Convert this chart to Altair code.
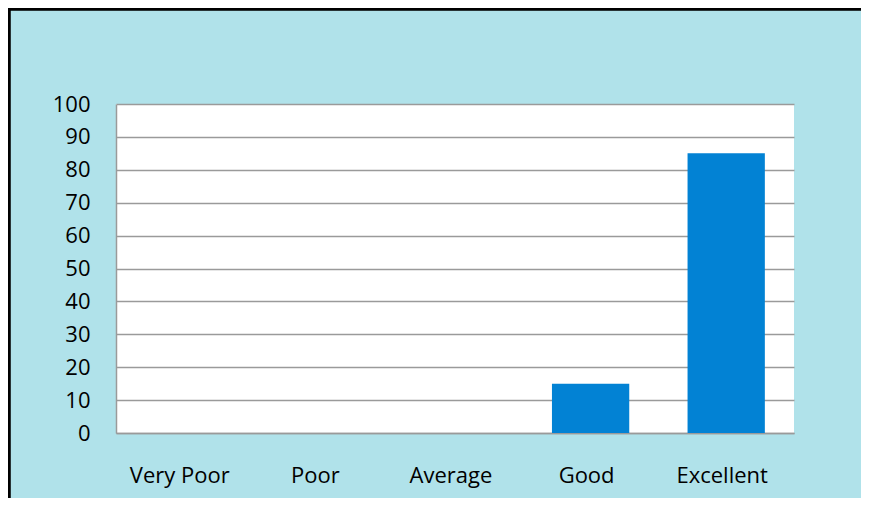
import altair as alt
import pandas as pd

categories = ["Very Poor", "Poor", "Average", "Good", "Excellent"]
values = [0, 0, 0, 15, 85]

df = pd.DataFrame({"category": categories, "value": values})

FONT = "Open Sans"
GRID = "#9a9a9a"
W, H = 678, 329
PL, PT, PR, PB = 108, 96, 67, 65

bars = alt.Chart(df).mark_bar(color="#0282d4").encode(
    x=alt.X("category:N", sort=categories,
            scale=alt.Scale(paddingInner=0.43, paddingOuter=0.215),
            axis=alt.Axis(title=None, labelAngle=0, labelFont=FONT, labelFontSize=22,
                          labelColor="#000000", labelPadding=32, labelOffset=-4,
                          ticks=False, domain=True, domainColor=GRID, domainWidth=1.5,
                          grid=False)),
    y=alt.Y("value:Q", scale=alt.Scale(domain=[0, 100], nice=False),
            axis=alt.Axis(title=None, values=list(range(0, 101, 10)), labelFont=FONT,
                          labelFontSize=22, labelColor="#000000", labelPadding=26,
                          ticks=False, domain=True, domainColor=GRID, domainWidth=1.5,
                          grid=True, gridColor=GRID, gridWidth=1.5)),
)

left_border = alt.Chart(df).mark_rule(color="#000000", strokeWidth=2.5).encode(
    x=alt.value(-PL + 1), y=alt.value(-PT), y2=alt.value(H + PB)
)
top_border = alt.Chart(df).mark_rule(color="#000000", strokeWidth=2.5).encode(
    y=alt.value(-PT + 1), x=alt.value(-PL), x2=alt.value(W + PR)
)

chart = alt.layer(bars, left_border, top_border).properties(
    width=W, height=H,
    autosize=alt.AutoSizeParams(type="none"),
    padding={"left": PL, "top": PT, "right": PR, "bottom": PB},
    background="#b0e2ea",
).configure_view(fill="#ffffff", stroke=None)

chart.save("out.html", embed_options={"renderer": "svg", "actions": False})
